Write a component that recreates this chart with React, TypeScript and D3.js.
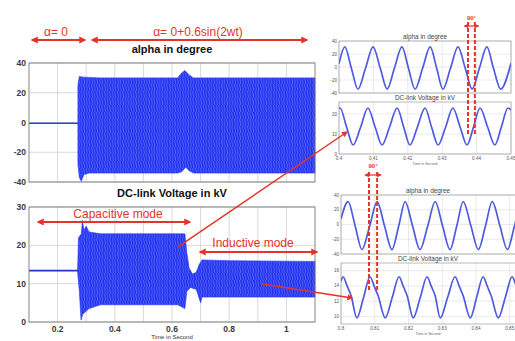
import React from 'react';
import * as d3 from 'd3';

type Pt = [number, number];

// main plots (time in seconds)
const mainTimeLabels = [0.2, 0.4, 0.6, 0.8, 1];
const mainTimeGrid = [0.2, 0.3, 0.4, 0.5, 0.6, 0.7, 0.8, 0.9, 1.0];
const alphaTicks = [-40, -20, 0, 20, 40];
const dcTicks = [0, 10, 20, 30];

// alpha before switching on the modulation
const alphaFlat: Pt[] = [[0.1, -0.5], [0.271, -0.5]];
// envelope of the dense alpha oscillation
const alphaUpper: Pt[] = [
  [0.271, 25], [0.276, 31], [0.29, 30.5], [0.35, 30], [0.62, 30], [0.632, 33],
  [0.645, 35], [0.66, 32], [0.675, 30], [1.1, 30],
];
const alphaLower: Pt[] = [
  [0.271, -28], [0.276, -37], [0.283, -39.5], [0.292, -35], [0.31, -34], [0.62, -34],
  [0.635, -33], [0.648, -30], [0.66, -32.5], [0.675, -34], [1.1, -34],
];

const dcFlat: Pt[] = [[0.1, 13.4], [0.271, 13.4]];
const dcUpper: Pt[] = [
  [0.27, 13.5], [0.273, 22], [0.283, 23], [0.287, 26.5], [0.292, 24], [0.3, 25],
  [0.31, 23.5], [0.35, 23], [0.645, 23], [0.652, 18], [0.66, 14], [0.672, 12.5],
  [0.685, 13], [0.695, 15], [0.705, 16.2], [0.8, 16], [1.1, 15.8],
];
const dcLower: Pt[] = [
  [0.27, 13], [0.276, 8], [0.282, 0.5], [0.288, 2], [0.295, 2.5], [0.31, 3.5],
  [0.35, 4.5], [0.62, 4.5], [0.645, 3.5], [0.652, 8], [0.665, 9], [0.685, 8.5],
  [0.7, 5], [0.705, 6.5], [0.8, 6.5], [1.1, 6.5],
];

// zoomed view, capacitive mode
const capTimeTicks = [0.4, 0.41, 0.42, 0.43, 0.44, 0.45];
const capAlpha: Pt[] = [
  [0.4, 5], [0.4017, 31], [0.4036, -2], [0.4055, -34], [0.4077, -2], [0.4099, 31],
  [0.412, -2], [0.414, -34], [0.4161, -2], [0.4183, 31], [0.4202, -2], [0.4221, -34],
  [0.4243, -2], [0.4265, 31], [0.4284, -2], [0.4302, -34], [0.4324, -2], [0.4346, 31],
  [0.4367, -2], [0.4387, -34], [0.4408, -2], [0.443, 31], [0.4449, -2], [0.447, -34],
  [0.45, 6],
];
const capDcTicks = [0, 10, 20];
const capDc: Pt[] = [
  [0.4, 22.8], [0.4003, 23], [0.4022, 13.5], [0.4041, 4.5], [0.4063, 13.5], [0.4084, 23],
  [0.4105, 13.5], [0.4125, 4.5], [0.4147, 13.5], [0.4169, 23], [0.4188, 13.5], [0.4206, 4.5],
  [0.4228, 13.5], [0.425, 23], [0.4269, 13.5], [0.4288, 4.5], [0.431, 13.5], [0.4331, 23],
  [0.4352, 13.5], [0.4372, 4.5], [0.4391, 13.5], [0.441, 23], [0.4432, 13.5], [0.4453, 4.5],
  [0.4472, 13.5], [0.4491, 23], [0.45, 22],
];

// zoomed view, inductive mode
const indTimeTicks = [0.8, 0.81, 0.82, 0.83, 0.84, 0.85];
const indAlpha: Pt[] = [
  [0.8, 7.5], [0.8021, 31], [0.8042, -2], [0.8062, -34], [0.8085, -2], [0.8107, 31],
  [0.8129, -2], [0.8151, -34], [0.8171, -2], [0.819, 31], [0.8212, -2], [0.8234, -34],
  [0.8257, -2], [0.8279, 31], [0.8301, -2], [0.8323, -34], [0.8343, -2], [0.8362, 31],
  [0.8385, -2], [0.8407, -34], [0.8428, -2], [0.8448, 31], [0.8471, -2], [0.8493, -34],
  [0.8514, -2], [0.8534, 31], [0.856, -10],
];
const indDcTicks = [10, 12, 14, 16];
const indDc: Pt[] = [
  [0.8, 14.6], [0.8006, 15.2], [0.8018, 14.0], [0.803, 12.7], [0.8047, 9.8], [0.8067, 12.5],
  [0.8086, 15.2], [0.8098, 14.0], [0.811, 12.7], [0.8131, 9.8], [0.8152, 12.5],
  [0.8172, 15.2], [0.8184, 14.0], [0.8196, 12.7], [0.8214, 9.8], [0.8235, 12.5],
  [0.8255, 15.2], [0.8267, 14.0], [0.8279, 12.7], [0.8294, 9.8], [0.8316, 12.5],
  [0.8338, 15.2], [0.835, 14.0], [0.8362, 12.7], [0.8383, 9.8], [0.8402, 12.5],
  [0.8421, 15.2], [0.8433, 14.0], [0.8445, 12.7], [0.8466, 9.8], [0.8487, 12.5],
  [0.8507, 15.2], [0.8519, 14.0], [0.8531, 12.7], [0.8549, 9.8], [0.856, 12.0],
];

const RED = '#e5332c';
const BLUE = '#2233ee';
const WAVE = '#4d5be0';
const FONT = 'Liberation Sans, Arial, sans-serif';

const mainX = d3.scaleLinear().domain([0.1, 1.1]).range([29, 315]);
const alphaY = d3.scaleLinear().domain([-40, 40]).range([182, 63]);
const dcY = d3.scaleLinear().domain([0, 30]).range([322, 207]);

const capX = d3.scaleLinear().domain([0.4, 0.45]).range([339, 511]);
const capAlphaY = d3.scaleLinear().domain([-40, 40]).range([93, 41]);
const capDcY = d3.scaleLinear().domain([0, 26]).range([154, 102]);

const indX = d3.scaleLinear().domain([0.8, 0.856]).range([341, 530]);
const indAlphaY = d3.scaleLinear().domain([-40, 40]).range([254, 195]);
const indDcY = d3.scaleLinear().domain([9, 17]).range([324, 263]);

const fmt = (v: number, d: number) => String(+v.toFixed(d));

interface PanelProps {
  id: string;
  x: d3.ScaleLinear<number, number>;
  y: d3.ScaleLinear<number, number>;
  xTicks: number[];
  yTicks: number[];
  data: Pt[];
  title: string;
  xLabels?: boolean;
}

// small panel of the zoomed-in views
const Panel: React.FC<PanelProps> = ({ id, x, y, xTicks, yTicks, data, title, xLabels }) => {
  const [x0, x1] = x.range();
  const [yb, yt] = y.range();
  const line = d3.line<Pt>().x(d => x(d[0])).y(d => y(d[1])).curve(d3.curveMonotoneX);
  const visibleRight = Math.min(x1, 515);
  return (
    <g>
      <clipPath id={id}>
        <rect x={x0} y={yt} width={x1 - x0} height={yb - yt} />
      </clipPath>
      <rect x={x0} y={yt} width={x1 - x0} height={yb - yt} fill="#fff" />
      {xTicks.map(t => (
        <line key={'gx' + t} x1={x(t)} x2={x(t)} y1={yt} y2={yb} stroke="#d4d4d4" strokeWidth={0.5} />
      ))}
      {yTicks.map(t => (
        <line key={'gy' + t} x1={x0} x2={x1} y1={y(t)} y2={y(t)} stroke="#d4d4d4" strokeWidth={0.5} />
      ))}
      <path d={line(data) || ''} fill="none" stroke={WAVE} strokeWidth={1.7} clipPath={`url(#${id})`} />
      <rect x={x0} y={yt} width={x1 - x0} height={yb - yt} fill="none" stroke="#8a8a8a" strokeWidth={0.6} />
      {yTicks.map(t => (
        <text key={'ly' + t} x={x0 - 2} y={y(t) + 1.6} fontSize={4.6} fill="#555" textAnchor="end" fontFamily={FONT}>
          {t}
        </text>
      ))}
      <text x={(x0 + visibleRight) / 2} y={yt - 2.5} fontSize={6.4} fill="#444" textAnchor="middle" fontFamily={FONT}>
        {title}
      </text>
      {xLabels && xTicks.map(t => (
        <text key={'lx' + t} x={x(t)} y={yb + 6} fontSize={4.6} fill="#555" textAnchor="middle" fontFamily={FONT}>
          {fmt(t, 2)}
        </text>
      ))}
      {xLabels && (
        <text x={(x0 + visibleRight) / 2} y={yb + 10.5} fontSize={3.6} fill="#666" textAnchor="middle" fontFamily={FONT}>
          Time in Second
        </text>
      )}
    </g>
  );
};

const DoubleArrow: React.FC<{ x1: number; x2: number; y: number; w?: number }> = ({ x1, x2, y, w = 1.8 }) => (
  <line x1={x1} x2={x2} y1={y} y2={y} stroke={RED} strokeWidth={w} markerStart="url(#ah)" markerEnd="url(#ah)" />
);

export default function App() {
  const band = (upper: Pt[], lower: Pt[], y: d3.ScaleLinear<number, number>) => {
    const line = d3.line<Pt>().x(d => mainX(d[0])).y(d => y(d[1]));
    return (line([...upper, ...lower.slice().reverse()]) || '') + 'Z';
  };
  const flat = (pts: Pt[], y: d3.ScaleLinear<number, number>) =>
    d3.line<Pt>().x(d => mainX(d[0])).y(d => y(d[1]))(pts) || '';

  const mainFrame = (y: d3.ScaleLinear<number, number>, ticks: number[], key: string, labelsX: boolean) => {
    const [yb, yt] = y.range();
    const [x0, x1] = mainX.range();
    return (
      <g key={key}>
        <rect x={x0} y={yt} width={x1 - x0} height={yb - yt} fill="#fff" />
        {mainTimeGrid.map(t => (
          <line key={'g' + t} x1={mainX(t)} x2={mainX(t)} y1={yt} y2={yb} stroke="#cfcfcf" strokeWidth={0.8} />
        ))}
        {ticks.map(t => (
          <line key={'h' + t} x1={x0} x2={x1} y1={y(t)} y2={y(t)} stroke="#cfcfcf" strokeWidth={0.8} />
        ))}
        {ticks.map(t => (
          <text key={'l' + t} x={x0 - 3} y={y(t) + 3} fontSize={8.5} fontWeight="bold" fill="#3a3a3a" textAnchor="end" fontFamily={FONT}>
            {t}
          </text>
        ))}
        {labelsX && mainTimeLabels.map(t => (
          <text key={'x' + t} x={mainX(t)} y={yb + 10} fontSize={8.5} fontWeight="bold" fill="#3a3a3a" textAnchor="middle" fontFamily={FONT}>
            {fmt(t, 1)}
          </text>
        ))}
      </g>
    );
  };

  const boxOf = (y: d3.ScaleLinear<number, number>) => {
    const [yb, yt] = y.range();
    const [x0, x1] = mainX.range();
    return <rect x={x0} y={yt} width={x1 - x0} height={yb - yt} fill="none" stroke="#7a7a7a" strokeWidth={0.9} />;
  };

  return (
    <svg width={515} height={341} style={{ position: 'absolute', left: 0, top: 0, background: '#fff' }}>
      <defs>
        <marker id="ah" viewBox="0 0 10 10" refX="8" refY="5" markerWidth="4" markerHeight="4" orient="auto-start-reverse">
          <path d="M0,0 L10,5 L0,10 Z" fill={RED} />
        </marker>
        <pattern id="dense" patternUnits="userSpaceOnUse" width={2.6} height={7}>
          <rect width={2.6} height={7} fill={BLUE} />
          <path d="M0.4,0 L1.6,7" stroke="#6c79ff" strokeWidth={0.7} />
        </pattern>
      </defs>
      <rect width={515} height={341} fill="#fff" />

      {/* main: alpha */}
      {mainFrame(alphaY, alphaTicks, 'fa', false)}
      <path d={band(alphaUpper, alphaLower, alphaY)} fill="url(#dense)" stroke={BLUE} strokeWidth={0.6} />
      <path d={flat(alphaFlat, alphaY)} fill="none" stroke="#3344cc" strokeWidth={1.6} />
      {boxOf(alphaY)}
      <text x={172} y={53} fontSize={11} fontWeight="bold" textAnchor="middle" fontFamily={FONT} fill="#111">
        alpha in degree
      </text>

      {/* main: DC-link voltage */}
      {mainFrame(dcY, dcTicks, 'fd', true)}
      <path d={band(dcUpper, dcLower, dcY)} fill="url(#dense)" stroke={BLUE} strokeWidth={0.6} />
      <path d={flat(dcFlat, dcY)} fill="none" stroke="#2233cc" strokeWidth={1.8} />
      {boxOf(dcY)}
      <text x={172} y={197} fontSize={11} fontWeight="bold" textAnchor="middle" fontFamily={FONT} fill="#111">
        DC-link Voltage in kV
      </text>
      <text x={172} y={339} fontSize={6} textAnchor="middle" fontFamily={FONT} fill="#333">
        Time in Second
      </text>

      {/* annotations */}
      <text x={56} y={36} fontSize={12} textAnchor="middle" fontFamily={FONT} fill={RED}>α= 0</text>
      <DoubleArrow x1={32} x2={85} y={40} />
      <text x={198} y={36} fontSize={12} textAnchor="middle" fontFamily={FONT} fill={RED}>α= 0+0.6sin(2wt)</text>
      <DoubleArrow x1={92} x2={307} y={40} />
      <text x={118} y={218} fontSize={12} textAnchor="middle" fontFamily={FONT} fill={RED}>Capacitive mode</text>
      <DoubleArrow x1={38} x2={190} y={222} />
      <text x={253} y={247} fontSize={12} textAnchor="middle" fontFamily={FONT} fill={RED}>Inductive mode</text>
      <DoubleArrow x1={200} x2={317} y={252} />

      {/* zoomed views */}
      <Panel id="ca" x={capX} y={capAlphaY} xTicks={capTimeTicks} yTicks={alphaTicks} data={capAlpha} title="alpha in degree" />
      <Panel id="cd" x={capX} y={capDcY} xTicks={capTimeTicks} yTicks={capDcTicks} data={capDc} title="DC-link Voltage in kV" xLabels />
      <Panel id="ia" x={indX} y={indAlphaY} xTicks={indTimeTicks} yTicks={alphaTicks} data={indAlpha} title="alpha in degree" />
      <Panel id="id" x={indX} y={indDcY} xTicks={indTimeTicks} yTicks={indDcTicks} data={indDc} title="DC-link Voltage in kV" xLabels />

      {/* pointers to the zoomed views */}
      <line x1={mainX(0.621)} y1={dcY(19.6)} x2={capX(0.4023)} y2={capDcY(11)} stroke={RED} strokeWidth={1.5} markerEnd="url(#ah)" />
      <line x1={mainX(0.915)} y1={dcY(9.9)} x2={indX(0.8033)} y2={indDcY(12.4)} stroke={RED} strokeWidth={1.5} markerEnd="url(#ah)" />

      {/* 90 degree phase markers */}
      {[0.4375, 0.4395].map(t => (
        <line key={'c' + t} x1={capX(t)} x2={capX(t)} y1={22} y2={135} stroke={RED} strokeWidth={2} strokeDasharray="4,2" />
      ))}
      <DoubleArrow x1={capX(0.4365)} x2={capX(0.4405)} y={26} w={1.2} />
      <text x={capX(0.4385)} y={20} fontSize={6} fontWeight="bold" textAnchor="middle" fontFamily={FONT} fill={RED}>90°</text>
      {[0.8083, 0.8107].map(t => (
        <line key={'i' + t} x1={indX(t)} x2={indX(t)} y1={172} y2={290} stroke={RED} strokeWidth={2} strokeDasharray="4,2" />
      ))}
      <DoubleArrow x1={indX(0.8072)} x2={indX(0.8118)} y={175} w={1.2} />
      <text x={indX(0.8095)} y={168} fontSize={6} fontWeight="bold" textAnchor="middle" fontFamily={FONT} fill={RED}>90°</text>
    </svg>
  );
}
